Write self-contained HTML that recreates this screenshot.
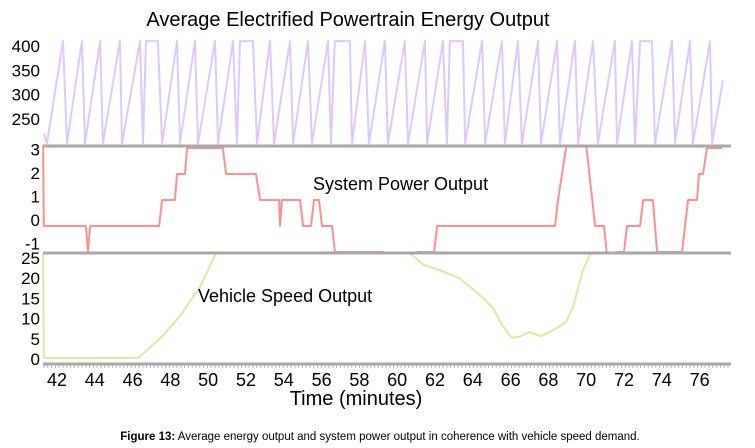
<!DOCTYPE html>
<html><head><meta charset="utf-8"><style>
body{margin:0;background:#fff;}
svg{display:block;font-family:"Liberation Sans",Arial,sans-serif;}
</style></head><body>
<svg id="chart" width="755" height="448" viewBox="0 0 755 448">
<rect width="755" height="448" fill="#fff"/>
<text x="348" y="26" font-size="20" text-anchor="middle" fill="#000">Average Electrified Powertrain Energy Output</text>
<defs>
<clipPath id="c1"><rect x="43" y="38" width="688" height="108"/></clipPath>
<clipPath id="c2"><rect x="42" y="146" width="689" height="108"/></clipPath>
<clipPath id="c3"><rect x="42" y="254" width="689" height="110"/></clipPath>
</defs>
<g id="g1"></g>
<g id="g2"></g>
<g id="g3"></g>
<g id="axes"></g>
<text x="313" y="190" font-size="18">System Power Output</text>
<text x="198" y="302" font-size="18">Vehicle Speed Output</text>
<text x="356" y="405" font-size="20" text-anchor="middle">Time (minutes)</text>
<text x="380" y="440" font-size="11.5" text-anchor="middle"><tspan font-weight="bold">Figure 13:</tspan> Average energy output and system power output in coherence with vehicle speed demand.</text>
</svg>
<script>
const energyTimes=[41.31,41.47,42.32,42.53,43.32,43.48,44.28,44.43,45.33,45.44,46.39,46.55,46.71,47.34,47.56,48.35,48.51,49.30,49.46,50.36,50.52,51.31,51.52,51.68,52.37,52.58,53.27,53.48,54.33,54.49,55.28,55.49,56.34,56.49,56.70,57.50,57.61,58.30,58.51,59.35,59.51,60.41,60.57,61.47,61.58,62.42,62.63,62.79,63.48,63.59,64.49,64.65,65.54,65.70,66.39,66.60,67.45,67.61,68.46,68.61,69.41,69.57,70.36,70.62,71.52,71.63,72.42,72.58,72.85,73.48,73.64,74.54,74.70,75.49,75.65,76.55,76.66,77.24];
const energyValues=[220,200,410,200,410,200,410,200,410,200,410,200,410,410,200,410,200,410,200,410,200,410,200,410,410,200,410,200,410,200,410,200,410,200,410,410,200,410,200,410,200,410,200,410,200,410,200,410,410,200,410,200,410,200,410,200,410,200,410,200,410,200,410,200,410,200,410,200,410,410,200,410,200,410,200,410,200,330];
const energyTicks=[400,350,300,250];
const powerTimes=[41.26,41.30,43.53,43.64,43.75,47.40,47.56,48.24,48.35,48.77,48.88,50.78,50.94,52.53,52.74,53.75,53.80,53.90,54.86,55.02,55.44,55.60,55.86,56.02,56.55,56.71,59.25,59.30,61.05,61.10,61.95,62.11,68.35,68.51,68.72,69.04,69.94,70.47,70.94,71.15,71.52,71.58,72.00,72.16,72.85,73.01,73.53,73.75,75.07,75.39,75.86,75.97,76.18,76.39,77.19];
const powerValues=[3.5,0,0,-1,0,0,1,1,2,2,3,3,2,2,1,1,0,1,1,0,0,1,1,0,0,-1,-1,-1.5,-1.5,-1,-1,0,0,1,2,3.5,3.5,0,0,-1.5,-1.5,-1,-1,0,0,1,1,-1,-1,1,1,2,2,3,3];
const powerTicks=[3,2,1,0,-1];
const speedTimes=[41.26,41.30,46.29,47.50,48.51,49.57,50.36,51.0,60.5,60.78,61.42,62.21,63.27,64.28,65.07,65.54,66.07,66.50,66.97,67.61,68.30,68.93,69.30,69.83,70.20,71.0,77.3];
const speedValues=[30,0,0,5,10.4,17.6,25.5,30,30,25.5,23,21.8,19.8,16,12.4,8.2,5,5.3,6.4,5.4,7,8.9,12.6,21.8,25.5,30,30];
const speedTicks=[25,20,15,10,5,0];
const xTicks=[42,44,46,48,50,52,54,56,58,60,62,64,66,68,70,72,74,76];

const NS="http://www.w3.org/2000/svg";
const X=t=>57+(t-42)*18.9;
const yE=v=>46+(400-v)*0.487;
const yP=v=>226-v*26;
const yPL=v=>219-v*23.5;
const yS=v=>358-v*4.04;
function mk(tag,attrs,parent){const e=document.createElementNS(NS,tag);for(const k in attrs)e.setAttribute(k,attrs[k]);parent.appendChild(e);return e;}
function line(times,vals,ys,parent,clip,color,w){
  let d="";times.forEach((t,i)=>{d+=(i?"L":"M")+X(t).toFixed(1)+","+ys(vals[i]).toFixed(1);});
  return mk("path",{d:d,fill:"none",stroke:color,"stroke-width":w,"clip-path":"url(#"+clip+")","stroke-linejoin":"round"},parent);
}
const g1=document.getElementById("g1"),g2=document.getElementById("g2"),g3=document.getElementById("g3"),ax=document.getElementById("axes");
const l1=line(energyTimes,energyValues,yE,g1,"c1","#dcc8ff",2);


const l2=line(powerTimes,powerValues,yP,g2,"c2","#ff8f8f",2);


const l3=line(speedTimes,speedValues,yS,g3,"c3","#d6eba2",2);


[146,253,364].forEach((y,i)=>{
  const r=mk("rect",{x:43,y:y-1.5,width:688,height:3,fill:"#a8a8a8"},ax);
  
  
});
for(let x=44;x<731;x+=3.8){mk("line",{x1:x,x2:x,y1:365,y2:368,stroke:"#b5b5b5","stroke-width":1},ax);}
function ylab(vals,ys,dy){vals.forEach(v=>{
  const t=mk("text",{x:40,y:ys(v)+dy,"font-size":17,"text-anchor":"end"},ax);t.textContent=v;
  
  
});}
ylab(energyTicks,yE,6);
ylab(powerTicks,yPL,7);
ylab(speedTicks,yS,7);
xTicks.forEach(v=>{
  const t=mk("text",{x:X(v),y:386,"font-size":18,"text-anchor":"middle"},ax);t.textContent=v;
  
  
});
</script>
</body></html>
